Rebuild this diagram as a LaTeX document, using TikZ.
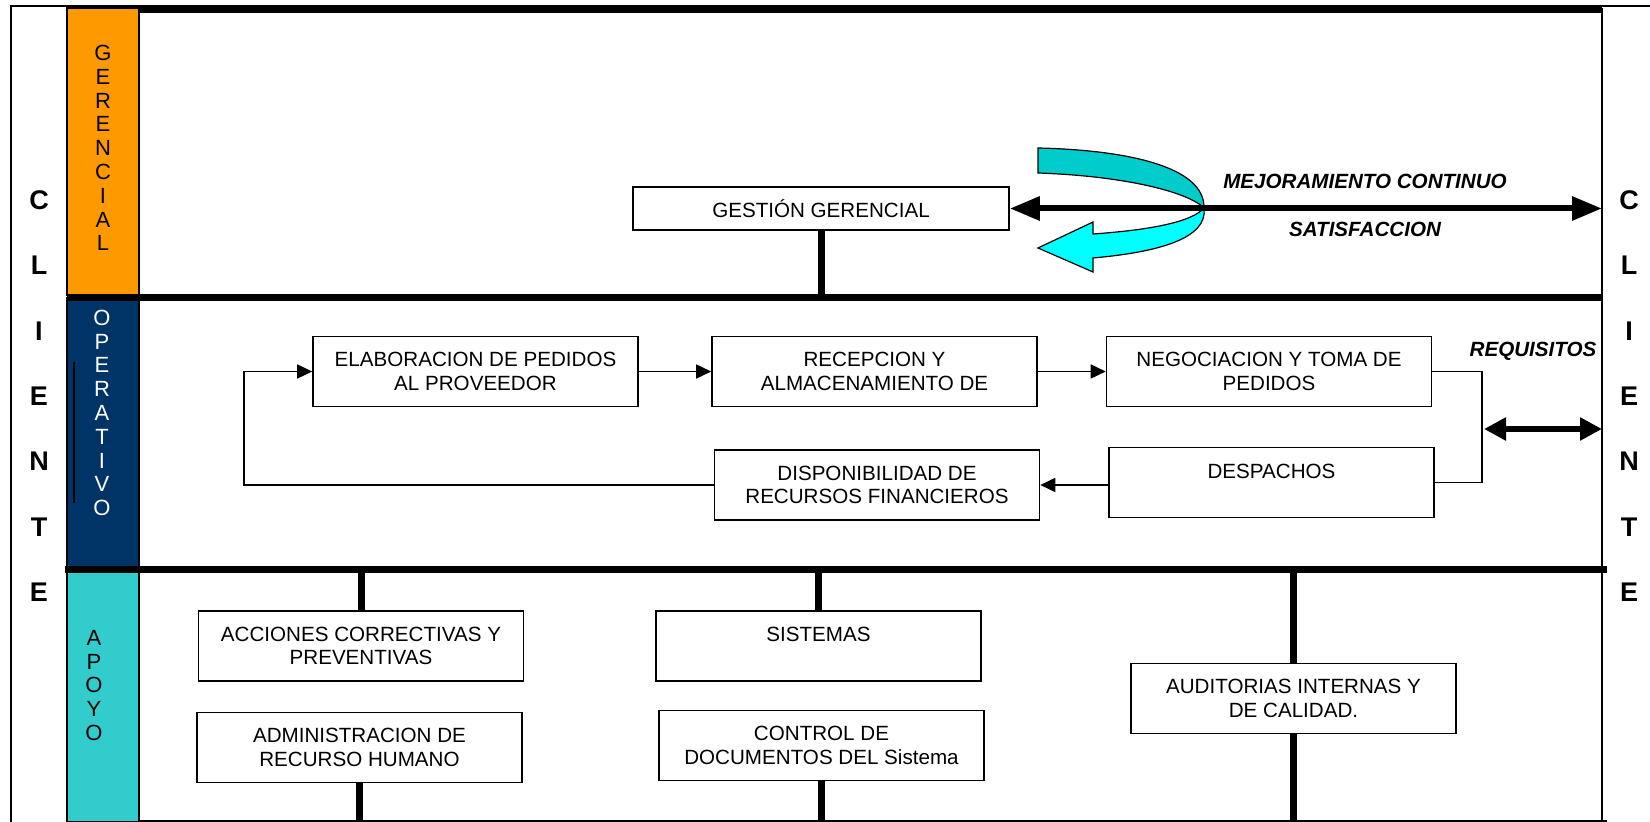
\documentclass[tikz,border=0pt]{standalone}
\usepackage{fontspec}
\setmainfont{Liberation Sans}
\usetikzlibrary{arrows.meta}
\definecolor{gerc}{HTML}{FF9900}
\definecolor{operc}{HTML}{003366}
\definecolor{apoc}{HTML}{33CCCC}
\definecolor{darkteal}{HTML}{00CCCC}
\definecolor{lightcyan}{HTML}{00FFFF}
\tikzset{
  procbox/.style={draw, line width=0.8pt, fill=white, minimum width=162.5pt, minimum height=35pt,
    inner sep=0pt, align=center, font=\fontsize{10.3}{11.6}\selectfont},
  collabel/.style={align=center, inner sep=0pt, font=\fontsize{11}{11.9}\selectfont},
  clientlabel/.style={align=center, inner sep=0pt, font=\bfseries\fontsize{13.5}{32.7}\selectfont},
  emphlabel/.style={inner sep=0pt, font=\bfseries\itshape\fontsize{10.3}{12}\selectfont},
  thinln/.style={line width=0.8pt},
  thickln/.style={line width=3.5pt},
  thinarrow/.style={line width=0.8pt, -{Triangle[length=7.5pt,width=7pt]}},
  bigarrow/.style={line width=3pt, {Triangle[length=15pt,width=11.5pt]}-{Triangle[length=15pt,width=11.5pt]}},
  colrect/.style={draw, line width=0.8pt}
}
\begin{document}
\begin{tikzpicture}[x=0.5pt,y=-0.5pt]
\useasboundingbox (0,0) rectangle (1650,822);
\fill[white] (0,0) rectangle (1650,822);

% helper coordinates
\coordinate (lineGO) at (0,298);
\coordinate (lineOA) at (0,570);
\coordinate (bottomc) at (0,822);
\coordinate (rightline) at (1602,0);
\coordinate (loopx) at (244,0);
\coordinate (brx) at (1482,0);
\coordinate (reqL) at (1484,429);
\coordinate (reqR) at (1602,429);

% outer frame
\draw[thinln] (11,822) -- (11,6) -- (1650,6);
\draw[line width=1pt] (1602,8) -- (1602,822);
\draw[thinln] (67,821) -- (1607,821);

% column bands
\draw[colrect, fill=gerc] (67,8) rectangle (139,295);
\draw[colrect, fill=operc] (67,298) rectangle (139,570);
\draw[colrect, fill=apoc] (67,570) rectangle (139,822);
\draw[thinln] (74,362) -- (74,503);

% thick separators
\draw[thickln] (139,9.5) -- (1602,9.5);
\draw[thickln] (67,298) -- (1602,298);
\draw[thickln] (65,570) -- (1607,570);

% column labels
\node[collabel] (lblG) at (103,148) {G\\E\\R\\E\\N\\C\\I\\A\\L};
\node[collabel, text=white] (lblO) at (102,413) {O\\P\\E\\R\\A\\T\\I\\V\\O};
\node[collabel] (lblA) at (94,685.5) {A\\P\\O\\Y\\O};

% client labels
\node[clientlabel] (cliL) at (39,396) {C\\L\\I\\E\\N\\T\\E};
\node[clientlabel] (cliR) at (1629,396) {C\\L\\I\\E\\N\\T\\E};

% gerencial
\node[procbox, minimum width=188pt, minimum height=21.5pt] (gest) at (821,208.5) {GESTIÓN GERENCIAL};
\draw[thickln] (gest.south) -- (gest.south |- lineGO);

% curved improvement arrow
\draw[fill=darkteal, line width=0.6pt] (1038,148) .. controls (1125,150) and (1205,166) .. (1204,208)
  .. controls (1188,192) and (1125,176) .. (1038,173) -- cycle;
\draw[fill=lightcyan, line width=0.6pt] (1204,208) .. controls (1208,238) and (1160,252) .. (1093,258)
  -- (1093,272) -- (1038,248) -- (1093,222) -- (1093,234)
  .. controls (1150,230) and (1192,222) .. (1204,208) -- cycle;
\draw[bigarrow] (gest.east) -- (gest.east -| rightline);
\node[emphlabel] (mej) at (1365,181) {MEJORAMIENTO CONTINUO};
\node[emphlabel] (sat) at (1365,229) {SATISFACCION};

% operativo
\node[procbox] (elab) at (475.5,371.5) {ELABORACION DE PEDIDOS\\AL PROVEEDOR};
\node[procbox] (recep) at (874.5,371.5) {RECEPCION Y\\ALMACENAMIENTO DE};
\node[procbox] (negoc) at (1269,371.5) {NEGOCIACION Y TOMA DE\\PEDIDOS};
\node[procbox] (disp) at (877,485) {DISPONIBILIDAD DE\\RECURSOS FINANCIEROS};
\node[procbox] (desp) at (1271.5,482.5) {DESPACHOS\\\phantom{D}};

\draw[thinarrow] (elab.east) -- (recep.west);
\draw[thinarrow] (recep.east) -- (negoc.west);
\draw[thinarrow] (desp.west |- disp.east) -- (disp.east);
\draw[thinarrow] (disp.west) -- (disp.west -| loopx) -- (elab.west -| loopx) -- (elab.west);
\draw[thinln] (negoc.east) -- (negoc.east -| brx) -- (desp.east -| brx) -- (desp.east);
\draw[line width=3pt, {Triangle[length=11pt,width=11pt]}-{Triangle[length=11pt,width=11pt]}] (reqL) -- (reqR);
\node[emphlabel] (req) at (1533,351) {REQUISITOS};

% apoyo
\node[procbox] (acc) at (361,646) {ACCIONES CORRECTIVAS Y\\PREVENTIVAS};
\node[procbox] (sis) at (818.5,646) {SISTEMAS\\\phantom{S}};
\node[procbox] (adm) at (359.5,747.5) {ADMINISTRACION DE\\RECURSO HUMANO};
\node[procbox] (ctrl) at (821.5,745.5) {CONTROL DE\\DOCUMENTOS DEL Sistema};
\node[procbox] (aud) at (1293.5,698.5) {AUDITORIAS INTERNAS Y\\DE CALIDAD.};

\draw[thickln] (acc.north |- lineOA) -- (acc.north);
\draw[thickln] (adm.south) -- (adm.south |- bottomc);
\draw[thickln] (sis.north |- lineOA) -- (sis.north);
\draw[thickln] (ctrl.south) -- (ctrl.south |- bottomc);
\draw[thickln] (aud.north |- lineOA) -- (aud.north);
\draw[thickln] (aud.south) -- (aud.south |- bottomc);
\end{tikzpicture}
\end{document}
